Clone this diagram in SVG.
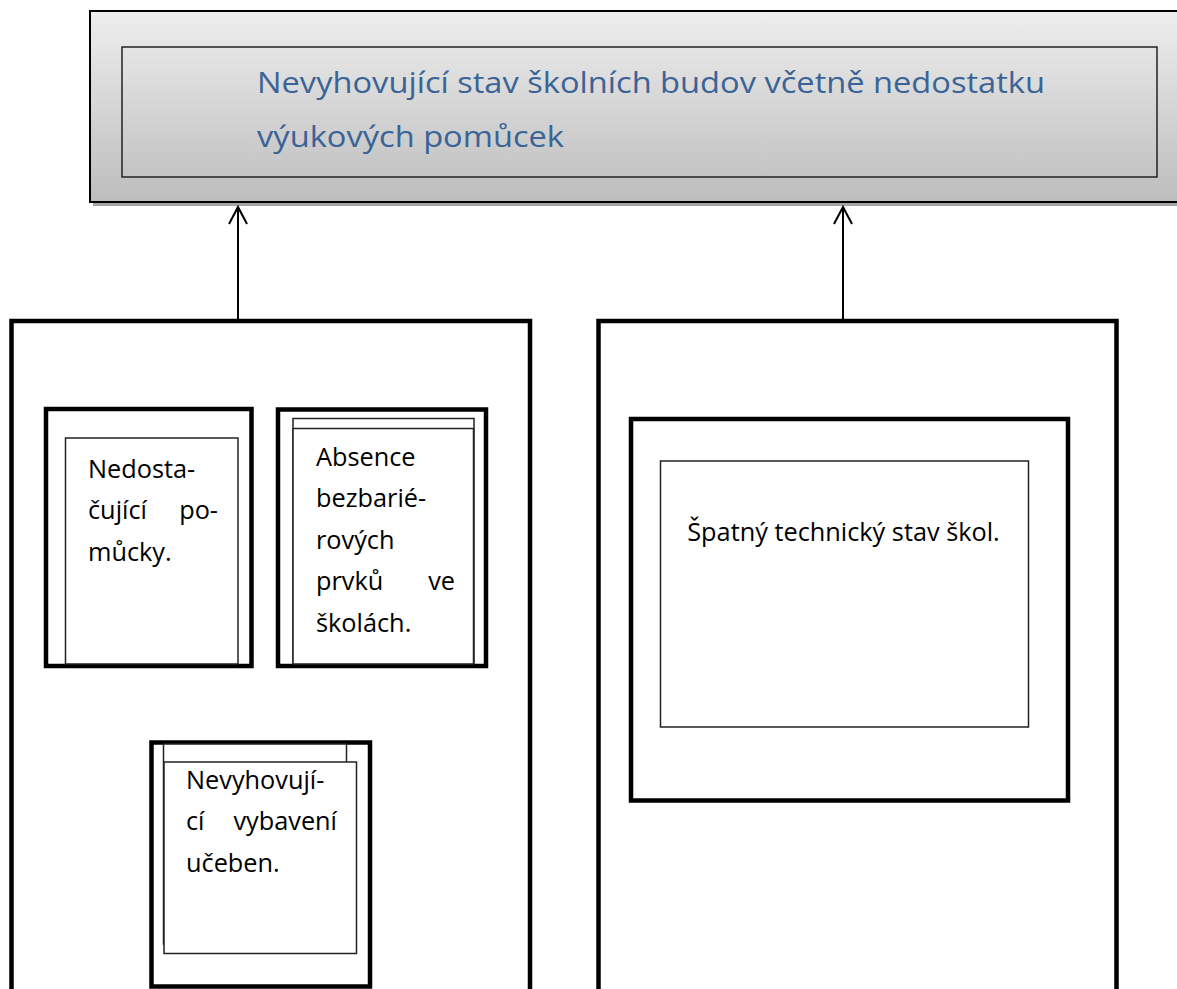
<svg xmlns="http://www.w3.org/2000/svg" width="1177" height="989" viewBox="0 0 1177 989">
<defs>
<linearGradient id="g" x1="0" y1="0" x2="0" y2="1">
<stop offset="0" stop-color="#eeeeee"/>
<stop offset="1" stop-color="#bdbdbd"/>
</linearGradient>
</defs>
<style>
.thick{fill:#fff;stroke:#000;stroke-width:4.5}
.thin{fill:#fff;stroke:#222;stroke-width:1.5}
.t{font-family:"Open Sans","Noto Sans","Liberation Sans",sans-serif;font-size:25.3px;fill:#000}
.title{font-family:"Open Sans","Noto Sans","Liberation Sans",sans-serif;font-size:30px;fill:#3a6396}
.con{stroke:#000;stroke-width:2;fill:none}
</style>
<rect x="0" y="0" width="1177" height="989" fill="#fff"/>

<g id="top">
<rect x="93" y="14" width="1100" height="192" fill="#a6a6a6"/>
<rect x="90" y="11" width="1100" height="191" fill="url(#g)" stroke="#000" stroke-width="2"/>
<rect x="122" y="47" width="1035" height="130" fill="none" stroke="#222" stroke-width="1.5"/>
<text class="title" x="257" y="93" textLength="788" lengthAdjust="spacingAndGlyphs">Nevyhovující stav školních budov včetně nedostatku</text>
<text class="title" x="257" y="147" textLength="307" lengthAdjust="spacingAndGlyphs">výukových pomůcek</text>
</g>

<g id="connectors">
<line class="con" x1="238" y1="320" x2="238" y2="207"/>
<polyline class="con" points="229,224 238,207 247,224" stroke-width="2.5"/>
<line class="con" x1="843" y1="320" x2="843" y2="207"/>
<polyline class="con" points="834,224 843,207 852,224" stroke-width="2.5"/>
</g>

<g id="left-group">
<rect class="thick" x="11.5" y="321" width="518.5" height="700"/>
</g>

<g id="node-pomucky">
<rect class="thick" x="46" y="409" width="205.5" height="257"/>
<rect class="thin" x="65.5" y="438" width="172.5" height="226"/>
<text class="t" x="88" y="478">Nedosta-</text>
<text class="t" x="88" y="519">čující</text>
<text class="t" x="218" y="519" text-anchor="end">po-</text>
<text class="t" x="88" y="561">můcky.</text>
</g>

<g id="node-bezbarier">
<rect class="thick" x="278" y="409.5" width="208" height="256.5"/>
<rect class="thin" x="293" y="418.5" width="181" height="245"/>
<rect class="thin" x="293" y="428.5" width="180.5" height="235.5"/>
<text class="t" x="316" y="466">Absence</text>
<text class="t" x="316" y="507">bezbarié-</text>
<text class="t" x="316" y="549">rových</text>
<text class="t" x="316" y="590">prvků</text>
<text class="t" x="455" y="590" text-anchor="end">ve</text>
<text class="t" x="316" y="632">školách.</text>
</g>

<g id="node-ucebny">
<rect class="thick" x="151.5" y="742.5" width="218.5" height="244"/>
<rect class="thin" x="163.5" y="744" width="183" height="200"/>
<rect class="thin" x="164" y="762" width="192.5" height="191.5"/>
<text class="t" x="186" y="789">Nevyhovují-</text>
<text class="t" x="186" y="830">cí</text>
<text class="t" x="337" y="830" text-anchor="end">vybavení</text>
<text class="t" x="186" y="872">učeben.</text>
</g>

<g id="right-group">
<rect class="thick" x="598.5" y="321" width="518" height="700"/>
</g>

<g id="node-technicky">
<rect class="thick" x="631" y="419" width="437" height="381.5"/>
<rect class="thin" x="660.5" y="461" width="368" height="266"/>
<text class="t" x="843.5" y="541" text-anchor="middle">Špatný technický stav škol.</text>
</g>
</svg>
